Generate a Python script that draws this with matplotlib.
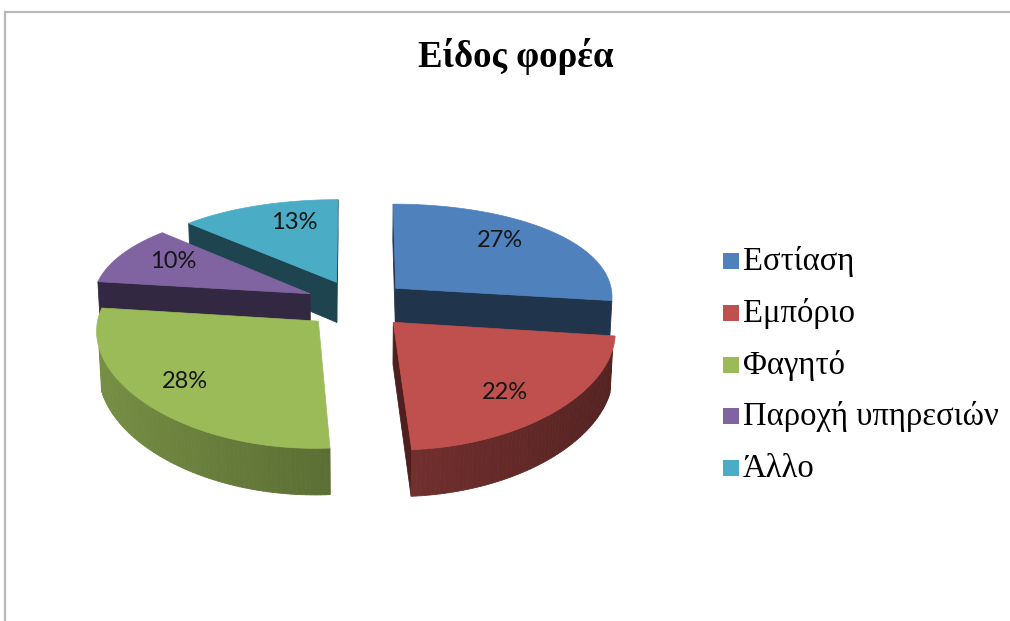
import numpy as np
import matplotlib.pyplot as plt
from matplotlib.patches import Polygon, Rectangle
from matplotlib.colors import to_rgb

title = 'Είδος φορέα'
labels = ['Εστίαση', 'Εμπόριο', 'Φαγητό', 'Παροχή υπηρεσιών', 'Άλλο']
shares = [27, 22, 28, 10, 13]
colors = ['#4f81bd', '#c0504d', '#9bbb59', '#8064a2', '#4bacc6']

# pixel nudges for the percentage labels (best-fit placement)
label_shift = [(8, -10), (13, 18), (-29, 12), (-19, -7), (8, -10)]

W, H = 1010, 621

# camera looking down on the pie; softened perspective across
elev = np.radians(28.2)
dist = 5.7
focal = 1226.0
fx = 218.0
gamma = 0.5
cx, cy = 357.0, 304.0
thick = 0.22
explode = 0.24
cam = np.array([0.0, dist * np.cos(elev), dist * np.sin(elev)])


def project(p):
    x, y, z = p
    w = dist - (y * np.cos(elev) + z * np.sin(elev))
    return (cx + fx * x * (dist / w) ** gamma,
            cy + focal * (y * np.sin(elev) - z * np.cos(elev)) / w)


def shade(c, k):
    r, g, b = to_rgb(c)
    return (r * k, g * k, b * k)


def rim(t, off, z):
    # angle t measured clockwise from 12 o'clock, y grows toward the viewer
    return np.array([off[0] + np.sin(t), off[1] - np.cos(t), z])


fig = plt.figure(figsize=(W / 100, H / 100), dpi=100)
ax = fig.add_axes([0, 0, 1, 1])
ax.set_xlim(0, W)
ax.set_ylim(H, 0)
ax.axis('off')

total = float(sum(shares))
bounds = np.concatenate([[0], np.cumsum(shares)]) / total * 2 * np.pi

slices = []
for i in range(len(shares)):
    t1, t2 = bounds[i], bounds[i + 1]
    mid = (t1 + t2) / 2
    off = explode * np.array([np.sin(mid), -np.cos(mid)])
    slices.append((off[1], i, t1, t2, mid, off))
slices.sort(key=lambda s: s[0])  # far slices first

for _, i, t1, t2, mid, off in slices:
    col = colors[i]
    faces = []
    ct = np.array([off[0], off[1], 0.0])
    cb = np.array([off[0], off[1], -thick])
    # cut faces of the wedge
    for t, sgn in ((t1, -1), (t2, 1)):
        n = sgn * np.array([np.cos(t), np.sin(t), 0.0])
        pt = rim(t, off, 0.0)
        if np.dot(n, cam - (ct + pt) / 2) > 0:
            faces.append(([ct, pt, rim(t, off, -thick), cb], shade(col, 0.4)))
    # outer wall in thin strips
    ts = np.linspace(t1, t2, max(int((t2 - t1) / 0.02), 2))
    for a, b in zip(ts[:-1], ts[1:]):
        m = (a + b) / 2
        n = np.array([np.sin(m), -np.cos(m), 0.0])
        if np.dot(n, cam - rim(m, off, -thick / 2)) > 0:
            k = 0.6 - 0.17 * np.sin(m)
            quad = [rim(a, off, 0), rim(b, off, 0), rim(b, off, -thick), rim(a, off, -thick)]
            faces.append((quad, shade(col, k)))
    for poly, fc in faces:
        ax.add_patch(Polygon([project(p) for p in poly], closed=True, fc=fc, ec=fc, lw=0.6))
    top = [ct] + [rim(t, off, 0.0) for t in np.linspace(t1, t2, 120)]
    ax.add_patch(Polygon([project(p) for p in top], closed=True, fc=col, ec=col, lw=0.5))

# percentage labels on the top faces
for _, i, t1, t2, mid, off in slices:
    p = np.array([off[0] + 0.62 * np.sin(mid), off[1] - 0.62 * np.cos(mid), 0.0])
    x, y = project(p)
    dx, dy = label_shift[i]
    ax.text(x + dx, y + dy, f'{shares[i]}%', ha='center', va='center', fontsize=17,
            family='Lato', color='#151515')

ax.text(516, 67, title, ha='center', va='baseline', fontsize=26.5,
        fontweight='bold', family='Liberation Serif', color='black')

# legend
for j, (lab, col) in enumerate(zip(labels, colors)):
    base = 270 + j * 51.8
    ax.add_patch(Rectangle((723, base - 17), 16, 16, fc=col, ec='none'))
    ax.text(743, base, lab, ha='left', va='baseline', fontsize=23.5,
            family='Liberation Serif', color='black')

# chart frame
ax.plot([5, 5], [12, H], color='#b8b8b8', lw=1.6)
ax.plot([5, W], [12, 12], color='#b8b8b8', lw=1.6)

fig.savefig('out.png', dpi=100, facecolor='white')
